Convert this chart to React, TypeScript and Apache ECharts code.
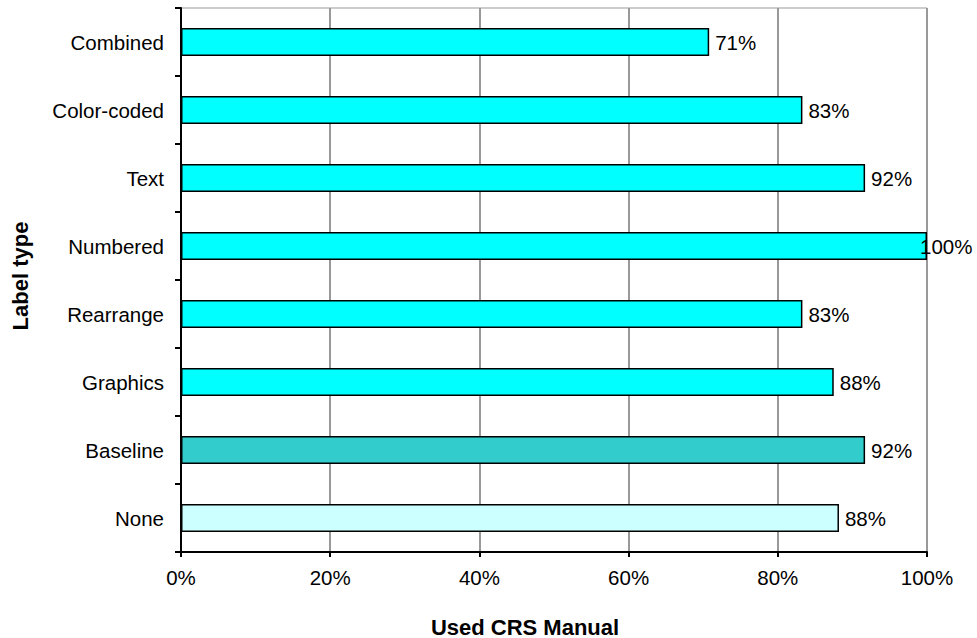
import React, { useEffect, useRef } from "react";
import * as echarts from "echarts";

const categories = ["None", "Baseline", "Graphics", "Rearrange", "Numbered", "Text", "Color-coded", "Combined"];
const values = [88.2, 91.7, 87.5, 83.3, 100, 91.7, 83.3, 70.8];
const barColors = ["#CCFFFF", "#33CCCC", "#00FFFF", "#00FFFF", "#00FFFF", "#00FFFF", "#00FFFF", "#00FFFF"];
const xTicks = [0, 20, 40, 60, 80, 100];
const xTitle = "Used CRS Manual";
const yTitle = "Label type";

const FONT = "Liberation Sans, Arial, sans-serif";

export default function App() {
  const ref = useRef<HTMLDivElement>(null);
  useEffect(() => {
    if (!ref.current) return;
    const chart = echarts.init(ref.current, undefined, { renderer: "svg" });
    const maxV = xTicks[xTicks.length - 1];
    chart.setOption({
      animation: false,
      backgroundColor: "#ffffff",
      textStyle: { fontFamily: FONT },
      grid: {
        left: 181,
        right: 50,
        top: 8,
        bottom: 86,
        show: true,
        borderColor: "#999999",
        borderWidth: 1,
        containLabel: false,
        outerBoundsMode: "none",
      },
      graphic: [
        {
          type: "text",
          x: 525,
          y: 627,
          style: {
            text: xTitle,
            fontFamily: FONT,
            fontSize: 22,
            fontWeight: "bold",
            fill: "#000",
            align: "center",
            verticalAlign: "middle",
          },
        },
        {
          type: "text",
          x: 20,
          y: 276,
          rotation: Math.PI / 2,
          style: {
            text: yTitle,
            fontFamily: FONT,
            fontSize: 22,
            fontWeight: "bold",
            fill: "#000",
            align: "center",
            verticalAlign: "middle",
          },
        },
      ],
      xAxis: {
        type: "value",
        min: xTicks[0],
        max: maxV,
        interval: 20,
        axisLine: { show: true, lineStyle: { color: "#000", width: 2 } },
        axisTick: { show: true, length: 5, lineStyle: { color: "#000", width: 2 } },
        axisLabel: {
          formatter: "{value}%",
          fontFamily: FONT,
          fontSize: 20.5,
          color: "#000",
          margin: 15,
        },
        splitLine: { show: true, lineStyle: { color: "#999999", width: 2 } },
      },
      yAxis: {
        type: "category",
        data: categories,
        axisLine: { show: true, lineStyle: { color: "#000", width: 2 } },
        axisTick: { show: true, length: 6, lineStyle: { color: "#000", width: 2 } },
        axisLabel: { fontFamily: FONT, fontSize: 20.5, color: "#000", margin: 17 },
        splitLine: { show: false },
      },
      series: [
        {
          type: "bar",
          barWidth: 28,
          data: values.map((v, i) => ({
            value: v,
            itemStyle: { color: barColors[i], borderColor: "#000", borderWidth: 1.5 },
            label: v >= maxV ? { distance: -7 } : undefined,
          })),
          label: {
            show: true,
            position: "right",
            distance: 6,
            formatter: (p: any) => Math.round(p.value) + "%",
            fontFamily: FONT,
            fontSize: 20.5,
            color: "#000",
          },
        },
      ],
    });
    return () => chart.dispose();
  }, []);
  return <div ref={ref} style={{ width: 977, height: 638, position: "absolute", left: 0, top: 0 }} />;
}
